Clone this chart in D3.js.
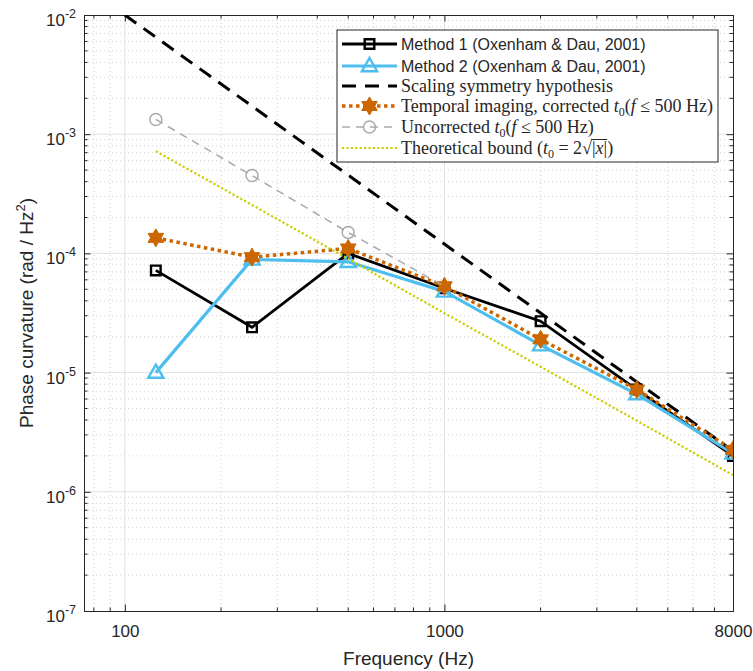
<!DOCTYPE html>
<html>
<head>
<meta charset="utf-8">
<script src="https://cdn.jsdelivr.net/npm/d3@7"></script>
<style>
  body { margin: 0; background: #fff; }
  text { fill: #262626; }
  .sans { font-family: "Liberation Sans", Arial, sans-serif; }
  .serif { font-family: "Liberation Serif", "Times New Roman", serif; }
</style>
</head>
<body>
<svg id="chart" width="753" height="671"></svg>
<script>
// data (Hz, rad/Hz^2)
var freqs = [125, 250, 500, 1000, 2000, 4000, 8000];
var method1 = [7.2e-5, 2.4e-5, 1.0e-4, 5.1e-5, 2.7e-5, 7.2e-6, 2.0e-6];
var method2 = [1.0e-5, 8.9e-5, 8.5e-5, 4.8e-5, 1.7e-5, 6.6e-6, 2.1e-6];
var scalingFreqs = [100, 8000];
var scaling = [1.0e-2, 2.2e-6];
var corrected = [1.35e-4, 9.3e-5, 1.1e-4, 5.3e-5, 1.9e-5, 7.2e-6, 2.25e-6];
var uncorrectedFreqs = [125, 250, 500, 1000];
var uncorrected = [1.33e-3, 4.5e-4, 1.5e-4, 5.3e-5];
var bound = [7.2e-4, 2.55e-4, 9.0e-5, 3.15e-5, 1.12e-5, 3.95e-6, 1.38e-6];
var xTicks = [100, 1000, 8000];
var yTicks = [1e-7, 1e-6, 1e-5, 1e-4, 1e-3, 1e-2];

var margin = {left: 84, right: 733, top: 15, bottom: 611};
var svg = d3.select('#chart');

var x = d3.scaleLog().domain([74.5, 8000]).range([margin.left, margin.right]);
var y = d3.scaleLog().domain([1e-7, 1e-2]).range([margin.bottom, margin.top]);

// minor tick positions (2..9 x each decade)
function minors(lo, hi, scale) {
  var out = [];
  for (var e = lo; e <= hi; e++) {
    for (var m = 2; m <= 9; m++) {
      var v = m * Math.pow(10, e);
      var d = scale.domain();
      if (v > d[0] * 1.0001 && v < d[1] * 0.9999) out.push(v);
    }
  }
  return out;
}
var xMinor = minors(1, 3, x);
var yMinor = minors(-7, -3, y);

var W = margin.right - margin.left, H = margin.bottom - margin.top;

// grid
var grid = svg.append('g');
grid.selectAll('.xminor').data(xMinor).enter().append('line')
  .attr('x1', x).attr('x2', x).attr('y1', margin.top).attr('y2', margin.bottom)
  .attr('stroke', '#c8c8c8').attr('stroke-width', 0.8).attr('stroke-dasharray', '1,3');
grid.selectAll('.yminor').data(yMinor).enter().append('line')
  .attr('y1', y).attr('y2', y).attr('x1', margin.left).attr('x2', margin.right)
  .attr('stroke', '#c8c8c8').attr('stroke-width', 0.8).attr('stroke-dasharray', '1,3');
grid.selectAll('.xmajor').data([100, 1000]).enter().append('line')
  .attr('x1', x).attr('x2', x).attr('y1', margin.top).attr('y2', margin.bottom)
  .attr('stroke', '#e0e0e0').attr('stroke-width', 1);
grid.selectAll('.ymajor').data(yTicks.slice(1, -1)).enter().append('line')
  .attr('y1', y).attr('y2', y).attr('x1', margin.left).attr('x2', margin.right)
  .attr('stroke', '#e0e0e0').attr('stroke-width', 1);

// axes (ticks point inward, box on)
var tickLen = 6.5, minorLen = 3.5;
var axB = svg.append('g').attr('transform', 'translate(0,' + margin.bottom + ')')
  .call(d3.axisBottom(x).tickValues(xTicks).tickSize(-tickLen).tickPadding(14).tickFormat(d3.format('d')));
var axT = svg.append('g').attr('transform', 'translate(0,' + margin.top + ')')
  .call(d3.axisTop(x).tickValues(xTicks).tickSize(-tickLen).tickFormat(''));
var axL = svg.append('g').attr('transform', 'translate(' + margin.left + ',0)')
  .call(d3.axisLeft(y).tickValues(yTicks).tickSize(-tickLen).tickPadding(9).tickFormat(''));
var axR = svg.append('g').attr('transform', 'translate(' + margin.right + ',0)')
  .call(d3.axisRight(y).tickValues(yTicks).tickSize(-tickLen).tickFormat(''));

[axB, axT, axL, axR].forEach(function(a) {
  a.select('.domain').attr('stroke', '#262626').attr('stroke-width', 1);
  a.selectAll('.tick line').attr('stroke', '#262626');
});
axB.selectAll('.tick text').attr('class', 'sans').attr('font-size', 17).attr('fill', '#262626');

axL.selectAll('.tick').each(function(d) {
  var t = d3.select(this).select('text')
    .attr('class', 'sans').attr('font-size', 17).attr('fill', '#262626')
    .attr('dy', null).attr('y', 10.5).attr('x', -8);
  t.text(null);
  t.append('tspan').text('10');
  t.append('tspan').attr('font-size', 12.5).attr('dy', -8).text(Math.round(Math.log10(d)));
});

// minor ticks on all four sides
var mt = svg.append('g').attr('stroke', '#262626').attr('stroke-width', 1);
xMinor.forEach(function(v) {
  mt.append('line').attr('x1', x(v)).attr('x2', x(v)).attr('y1', margin.bottom).attr('y2', margin.bottom - minorLen);
  mt.append('line').attr('x1', x(v)).attr('x2', x(v)).attr('y1', margin.top).attr('y2', margin.top + minorLen);
});
yMinor.forEach(function(v) {
  mt.append('line').attr('y1', y(v)).attr('y2', y(v)).attr('x1', margin.left).attr('x2', margin.left + minorLen);
  mt.append('line').attr('y1', y(v)).attr('y2', y(v)).attr('x1', margin.right).attr('x2', margin.right - minorLen);
});

// axis labels
svg.append('text').attr('class', 'sans').attr('font-size', 19)
  .attr('x', (margin.left + margin.right) / 2).attr('y', 665).attr('text-anchor', 'middle')
  .text('Frequency (Hz)');
var yl = svg.append('text').attr('class', 'sans').attr('font-size', 19)
  .attr('text-anchor', 'middle')
  .attr('transform', 'translate(33,' + ((margin.top + margin.bottom) / 2) + ') rotate(-90)');
yl.append('tspan').text('Phase curvature (rad / Hz');
yl.append('tspan').attr('font-size', 13).attr('dy', -8).text('2');
yl.append('tspan').attr('dy', 8).text(')');

// markers
function hexagram(r) {
  var pts = [];
  for (var i = 0; i < 12; i++) {
    var a = Math.PI / 6 * i - Math.PI / 2;
    var rr = i % 2 === 0 ? r : r / Math.sqrt(3);
    pts.push([rr * Math.cos(a), rr * Math.sin(a)]);
  }
  return 'M' + pts.join('L') + 'Z';
}
var shapes = {
  square: 'M-4.8,-4.8H4.8V4.8H-4.8Z',
  triangle: 'M0,-8L7.6,5.2L-7.6,5.2Z',
  star: hexagram(9),
  circle: d3.symbol(d3.symbolCircle, Math.PI * 36)()
};

var series = [
  {xs: freqs, ys: method1, color: '#000000', width: 2.8, dash: null, marker: 'square', fill: 'none', mw: 2.4},
  {xs: freqs, ys: method2, color: '#4dbeee', width: 3.2, dash: null, marker: 'triangle', fill: 'none', mw: 2.4},
  {xs: scalingFreqs, ys: scaling, color: '#000000', width: 3, dash: '14,9', marker: null},
  {xs: freqs, ys: corrected, color: '#cc6600', width: 3.5, dash: '3.5,3.5', marker: 'star', fill: '#cc6600', mw: 1},
  {xs: uncorrectedFreqs, ys: uncorrected, color: '#aaaaaa', width: 1.5, dash: '8,6', marker: 'circle', fill: 'none', mw: 1.5, markerMax: 500},
  {xs: freqs, ys: bound, color: '#cccc00', width: 2.2, dash: '2.2,2.2', marker: null}
];

svg.append('clipPath').attr('id', 'clip').append('rect')
  .attr('x', margin.left).attr('y', margin.top).attr('width', W).attr('height', H);
var plot = svg.append('g').attr('clip-path', 'url(#clip)');

var line = d3.line().x(function(d) { return x(d[0]); }).y(function(d) { return y(d[1]); });

series.forEach(function(s) {
  var pts = d3.zip(s.xs, s.ys);
  plot.append('path').datum(pts).attr('d', line)
    .attr('fill', 'none').attr('stroke', s.color).attr('stroke-width', s.width)
    .attr('stroke-dasharray', s.dash).attr('stroke-linejoin', 'miter');
  if (s.marker) {
    var mp = s.markerMax ? pts.filter(function(p) { return p[0] <= s.markerMax; }) : pts;
    plot.selectAll(null).data(mp).enter().append('path')
      .attr('d', shapes[s.marker])
      .attr('transform', function(d) { return 'translate(' + x(d[0]) + ',' + y(d[1]) + ')'; })
      .attr('fill', s.fill).attr('stroke', s.color).attr('stroke-width', s.mw);
  }
});

// legend
var legend = svg.append('g');
legend.append('rect').attr('x', 337).attr('y', 30).attr('width', 381).attr('height', 132)
  .attr('fill', '#fff').attr('stroke', '#262626').attr('stroke-width', 1);
var rows = [44, 66, 86, 106, 127, 148];
var labels = [
  [{t: 'Method 1 (Oxenham & Dau, 2001)'}],
  [{t: 'Method 2 (Oxenham & Dau, 2001)'}],
  [{t: 'Scaling symmetry hypothesis'}],
  [{t: 'Temporal imaging, corrected '}, {t: 't', i: 1}, {t: '0', sub: 1}, {t: '('}, {t: 'f', i: 1}, {t: ' \u2264 500 Hz)'}],
  [{t: 'Uncorrected '}, {t: 't', i: 1}, {t: '0', sub: 1}, {t: '('}, {t: 'f', i: 1}, {t: ' \u2264 500 Hz)'}],
  [{t: 'Theoretical bound ('}, {t: 't', i: 1}, {t: '0', sub: 1}, {t: ' = 2\u221A'}, {t: '|', over: 1}, {t: 'x', i: 1, over: 1}, {t: '|', over: 1}, {t: ')'}]
];
series.forEach(function(s, k) {
  var ry = rows[k];
  legend.append('line').attr('x1', 342).attr('x2', 397).attr('y1', ry).attr('y2', ry)
    .attr('stroke', s.color).attr('stroke-width', s.width).attr('stroke-dasharray', s.dash);
  if (s.marker) {
    legend.append('path').attr('d', shapes[s.marker]).attr('transform', 'translate(369.5,' + ry + ')')
      .attr('fill', s.fill).attr('stroke', s.color).attr('stroke-width', s.mw);
  }
  var txt = legend.append('text').attr('x', 401).attr('y', ry + 5.5)
    .attr('class', k < 2 ? 'sans' : 'serif').attr('font-size', k < 2 ? 16 : 18);
  var shifted = 0, over = [];
  labels[k].forEach(function(p) {
    var ts = txt.append('tspan').text(p.t);
    if (p.i) ts.attr('font-style', 'italic');
    if (p.sub) { ts.attr('font-size', 12).attr('dy', 4); shifted = 4; }
    else if (shifted) { ts.attr('dy', -shifted); shifted = 0; }
    if (p.over) over.push(ts.node());
  });
  // radical bar over |x|
  if (over.length) {
    var x0 = Infinity, x1 = -Infinity;
    over.forEach(function(n) {
      var b = n.getBBox();
      x0 = Math.min(x0, b.x); x1 = Math.max(x1, b.x + b.width);
    });
    legend.append('line').attr('x1', x0 - 1).attr('x2', x1).attr('y1', ry - 8.5).attr('y2', ry - 8.5)
      .attr('stroke', '#262626').attr('stroke-width', 1);
  }
});
</script>
</body>
</html>
